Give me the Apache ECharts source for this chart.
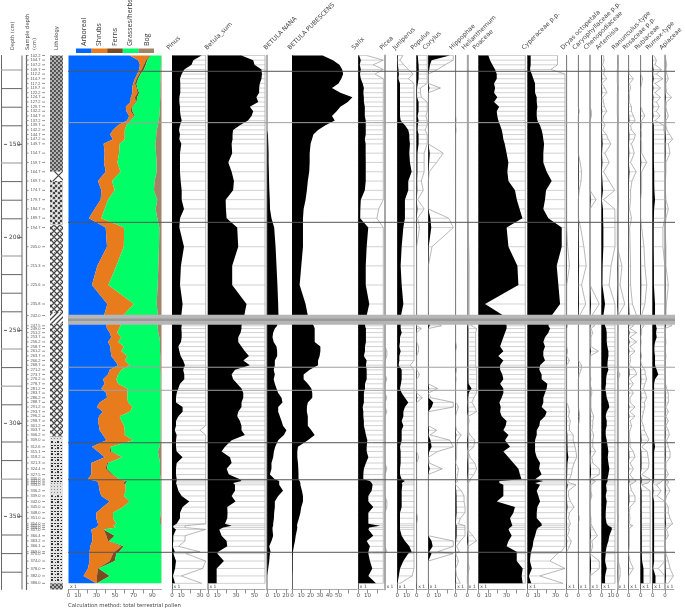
<!DOCTYPE html>
<html>
<head>
<meta charset="utf-8">
<title>Pollen diagram</title>
<style>
html, body { margin: 0; padding: 0; background: #fff; }
#chart { width: 685px; height: 609px; }
</style>
<script src="https://cdn.jsdelivr.net/npm/echarts@6/dist/echarts.min.js"></script>
</head>
<body>
<div id="chart"></div>
<script type="text/javascript">
// sample depths (cm)
const samples = [102.2,104.7,107.2,109.7,112.2,114.7,117.2,119.7,122.2,124.7,127.2,129.7,132.2,134.7,137.2,139.7,142.2,144.7,147.2,149.7,154.7,159.7,164.7,169.7,174.7,179.7,184.7,189.7,194.7,205.0,215.3,225.6,235.8,242.0,
    247.5,249.0,251.2,253.7,256.2,258.7,261.2,263.7,266.2,268.7,271.2,273.7,276.2,278.7,281.2,283.7,286.2,288.7,291.2,293.7,296.2,298.7,301.2,303.7,306.2,309.0,312.6,315.1,318.2,321.3,324.4,327.5,330.0,331.0,332.0,333.0,336.2,339.0,342.0,345.0,348.0,351.0,354.0,355.0,356.0,357.0,360.4,363.2,366.1,369.0,370.0,374.0,378.0,382.0,386.0]

// summary groups, cumulative percent at each sample
const arborealTop = [65.9,75,76.8,76,73.9,71.4,69.5,68.5,68.8,67,66.7,61.6,62.3,65.2,63.1,53.3,47.9,44.7,47.9,37.8,38.9,38.2,40,31.7,35.3,34.6,28.1,22,40,41.4,31,25.2,41.8,38.2,
    40.7,41.4,44.3,46.1,42.5,45,45.4,46.1,49.7,53.3,44.3,42.5,37.1,38.9,35.3,40.7,41.4,33.5,30.6,37.1,32.8,31.7,32.8,33.5,37.1,40.7,25.2,31.7,38.9,24.5,24.5,24.5,20.9,29.9,32.4,32.4,33.5,35.3,44.3,37.1,29.9,29.9,31.7,31.7,29.9,24.5,25.6,25.6,23.4,22.7,22.7,22.7,20.9,16.2,29.9]
const shrubsTop = [87.6,83.2,81.1,78.6,76,73.2,71.4,73.2,74.2,71.4,72.4,67.7,67,70.3,65.9,62.3,60.5,60.5,60.5,55.1,54.4,52.6,55.9,46.8,49.7,42.5,38.9,35.3,59.8,59.5,51.5,42.9,70.3,58.7,
    55.9,54.4,52.3,56.9,53.3,59.5,56.9,63.4,60.5,65.9,56.9,53.3,51.5,53.3,63.1,63.4,63.1,64.1,68.8,65.9,55.1,56.9,59.8,60.5,60.5,69.5,45.4,44.3,58,41.4,40,46.1,55.1,61.6,58.7,61.3,61.6,59.5,65.2,58.7,47.9,47.9,51.5,47.9,51.5,37.8,40.7,42.5,56.9,49.7,47.9,44.3,31.7,30.6,30.6]
const fernsTop = [88.3,84.7,83.2,81.1,77.5,75,73.2,73.9,76,73.9,73.2,68.8,68.8,71.4,66.7,62.3,60.5,60.5,60.5,55.1,54.4,52.6,55.9,46.8,49.7,42.5,38.9,35.3,59.8,59.5,51.5,42.9,70.3,58.7,
    55.9,54.4,52.3,56.9,53.3,59.5,56.9,63.4,60.5,65.9,56.9,53.3,51.5,53.3,63.1,63.4,63.1,64.1,68.8,65.9,55.1,56.9,59.8,60.5,60.5,69.5,45.4,46.1,58,42.5,41.4,47.6,55.1,63.1,61.6,61.3,61.6,59.5,65.9,58.7,47.9,47.9,51.5,47.9,51.5,37.8,49.7,43.6,59.5,54.4,51.5,49.7,32.4,44.3,30.6]
const grassesTop = [99.5,99.5,99.5,99.1,99.1,99.1,98.7,98.7,98.7,98.7,98.4,98.4,98,97.7,96.9,96.2,94.8,94.4,94.1,93.3,94.1,94.8,94.8,92.6,91.9,95.5,93.7,95.5,97.7,97.3,96.6,95.9,94.8,96.2,
    95.9,95.9,96.6,97.7,98.4,98.4,98.4,98.7,98.7,98.7,98.7,99.1,99.1,99.1,99.1,99.1,99.1,99.1,99.1,99.1,99.1,99.1,99.1,99.1,99.1,99.1,98,96.2,97.3,98.4,98.4,98.4,99.3,99.3,99.3,99.3,99.3,99.3,99.3,99.3,99.3,98.4,98.4,99.8,99.8,99.8,99.8,99.8,99.8,99.8,99.8,99.8,99.8,99.8,99.8]
const bogTop = samples.map(() => 100)

// main taxa, percent
const pinus = [31.8,22.9,21,13.2,10.4,8.6,8.9,8.9,8.9,7.9,7.9,8.6,8.6,9.3,10.4,8.6,7.5,8.6,7.9,10,8.6,8.6,8.6,9.3,10.4,10.4,12.9,8.6,7.9,12.9,9.6,8.6,11.4,10,
    10.4,10,10.4,10.4,9.6,6.8,7.9,9.3,12,13.9,12,13.2,13.2,8.6,6.8,5,4.3,4.3,11.4,11.4,6.8,4.3,4.3,3,5,4.3,4.3,5,11.4,5,4.3,4.3,5,5,4.3,5,6.8,10.4,18.6,11.4,8.6,8.6,5,1.4,1.4,4.3,1.4,1.4,0.7,3,1.5,4.3,3.3,1,3.2]
const betulaSum = [36,48.6,50,57.5,58,57.5,55.7,55,55,52,54,45,48.6,46.8,43,34.3,27,26.4,26.4,25.4,26,21.8,25.4,27.9,27,19,19.3,20,31.4,32.5,26,26,41.4,39,
    36,36,35,32.5,32.5,36,39.6,44,37.9,45,29,25.4,27,31.4,36,37.9,37.9,36,36,32.5,31.4,34.3,36,36,39.6,25.4,18.2,14.6,23.6,25.4,20,22.5,34.3,36,27,29,29,25.4,29.6,20.7,21,20.7,18.2,25.4,16.4,12.1,14.6,20,20.7,11,10,17.1,9.3,9.3,9.3]
const betulaNana = [0,0,0,0,0,0,0,0,0,0,0,0,0,0,0,0,0,0.8,1,1.2,1.5,1.5,1.8,2,2.3,2.8,3,4.6,7.5,9,10,11,11.8,12.1,
    10.7,8.2,6.4,5.7,7,10,10.7,10.7,8.2,8.2,7,8.2,7,8.2,10,11.8,15.4,16.4,11.8,11.8,13.6,15.4,17,20.7,17.9,11.8,8.6,7.2,6.4,4.6,4.6,2.9,8.2,12.9,12.9,12.9,17,11.8,8.2,8.2,7.5,7.2,6.4,6.4,5.7,5.7,6.4,4.6,2.2,3.6,2.9,2.2,1.1,0,0]
const betulaPubescens = [33,44,51,54,55,53,50,43,52,65,60,52,48,43,46,36,28,23,21.5,20,19,19,18.5,17,16,14.6,12.5,11.8,11.8,11.8,10,8.2,14.6,17,
    23.3,24.4,24.4,24.4,24.4,30.5,30.5,29.7,28,28,19,12.5,12.5,17,20.8,21.8,21.8,17,16,16,17,17,17,20.8,24.4,17,6.4,5.7,5.7,6.4,6.8,7,7,8.2,9,9,10.7,11.8,11.8,10,9,7.5,5.7,5.4,5.7,5.4,4,3.2,2,1,0.7,0.4,0.4,0,0]
const salix = [0.9,2.7,1.6,2.7,1.8,2.7,4.7,6,5.4,6,6,7,7,7,8,8,8,8,7,7.9,7.9,8,8,8,7,2.7,2.2,2,10.7,9,8,8,11.8,9,
    7.2,8.2,8.2,8.2,8.2,7.2,7.2,6,9,8.2,9,9,9,7.2,7.2,6,6,6,4.7,5.4,5.4,6,6,7.2,8.2,9.7,9,9,10.8,8.2,6,5.4,5.4,12.5,14.3,15.4,14.3,10.8,10.8,16.1,10.8,10.8,10.8,23.3,11.8,10.8,16.1,9,12.5,10.8,10.8,12.5,15,10.8,19]
const juniperus = [0.6,0.3,0.7,1.2,1.7,1.2,2.9,2.9,2.9,2.9,2.9,2.9,2.9,2.9,3.6,8.2,11.8,12.9,13,13.6,12.9,13.6,15.4,11.8,11.8,8.2,8.2,8.2,6.5,4.7,3.6,4.7,6.5,4,
    3.6,3.6,4.7,2.9,2.9,2.2,3.6,2.2,2.2,1.4,4.7,4.7,4.7,3.9,2.9,4.7,8.2,11.8,8.2,6.5,6.5,4.7,6.5,4.7,4.7,4.7,2.9,3.6,3.6,3.6,2.9,2.9,4.7,8.2,4.7,5.4,4.7,4.7,4.7,4.7,2.9,2.9,2.9,2.9,2.9,2.9,4.7,8.2,12.9,15.4,11.8,6.5,3,1.6,0.3]
const poaceae = [10.4,12.2,14.7,17.6,19.4,19.4,16.5,17.6,16.5,20,16.5,22,19.4,20,21.1,23,24.8,25.8,26.5,28,30,31.9,30.8,32,39,41,44,47,30,32,41.6,42.7,6.8,26.5,
    30,30,28.3,26.5,24.7,23,26.5,21,26.5,23,23,25.4,26.5,23,26.5,26.5,24.7,22.2,23.7,23,24.7,30,29,26.5,32,28.3,33.7,26.5,32,37.3,42.7,44.4,46,22.2,22.2,26.5,26.5,26.5,19.4,39,37.3,33.7,35.5,36.2,33.7,32,35.5,32,30,40.9,40.9,40.9,47.3,46.2,47.3]
const cyperaceae = [3.2,3.2,3.2,2.5,4.3,6.1,7.9,7.9,7.9,9.7,9.7,10.4,9.7,9.7,10.4,13.2,15,16.1,16.8,17.6,16.8,16.8,20.4,25.8,19.7,18.6,16.8,22.2,36.6,36.6,31.2,33,34.8,25.8,
    22.2,24,22.2,18.6,16.8,18.6,16.8,16.8,18.6,13.3,12.5,15,15,21.1,20.4,18.6,16.8,16.8,15,20.4,18.6,13.3,12.5,9.7,9.7,7.9,7.9,7.9,9.7,13.3,12.2,15,7.9,16.8,7.9,13.3,9.7,11.5,13.3,10.4,9.7,9.7,15,15,11.5,9.7,7.9,6.1,5.4,3.6,3.2,2.4,4.5,1.3,3.8]
const artemisia = [0.2,0.25,0.1,0.35,0.2,0.55,0.02,0.35,0.55,0.1,0.2,0.3,0.55,0.2,0.1,0.35,0.1,0.5,0.7,1,0.35,0.8,0.2,0.8,1.4,0.2,1.4,1.5,1.8,1.8,1,0.8,3.6,1.8,
    3.6,4.7,5.4,5.4,5.4,6.1,7.2,7.2,6.5,6.1,7.2,5.4,4.7,4.7,3.9,4.7,5.4,7.2,8.2,5.4,4.3,5.4,5.4,4.3,4.3,5.4,6.5,7.2,6.5,7.2,8.2,7.2,6.1,6.5,5.4,4.7,5.4,4.3,5.4,4.7,4.3,4.3,5.4,7.2,10.8,10.8,8.2,7.2,5.4,4.3,4.3,3.6,5.4,3.6,3.6]
const rumex = [0.1,0.4,0.25,0.95,0.4,1.1,0.25,0.85,0.25,0.85,0.4,0.7,0.4,0.8,0.25,1.2,1.2,1.3,1.3,1.3,1.3,1.3,1.6,1.6,1.8,2.5,1.5,1.3,1.1,1.1,1.3,1.3,2.5,2.5,
    3.6,4.3,3.6,4.3,2.5,1.8,1.8,2.5,2.5,2.5,4.3,6,2.5,1.5,1.5,1.5,1.5,1.5,1.5,1.5,1.5,1.5,1.5,1.5,1.5,1.5,2.5,1.5,1.5,1.5,1.5,1.5,1.5,1,0.8,0.4,0.9,0.5,1.5,1.5,1.5,1.5,1.5,1.5,1.5,1.5,1.5,1.5,1.5,1.5,1.5,1.5,0.6,3,3]
const rosaceae = [0,0,0,0,0.05,0.5,0.1,0.2,0.05,0.1,0.05,0.3,0.3,0.5,0.7,0.2,0.3,0.7,0.6,0.3,0.6,0.2,0.8,0.35,0.2,0.2,0.1,0.3,0.1,0.15,0.2,0.2,0.4,0.85,
    0.5,0.14,0.86,0.14,0.86,0.14,0.68,0.14,0.2,0.07,0.68,0.86,0.14,0.5,0.14,0.5,0.14,0.14,0.68,0.14,0.68,0.14,0.32,0.14,0.07,0.14,0.14,0.5,0.68,0.14,0.5,0.14,0.5,0.8,0.5,0.14,0.32,0.68,0.68,0.14,0.07,0.14,0.07,0.43,0.14,0.07,0.07,0.07,0.07,0,0,0.14,0.5,0,0]
const apiaceae = [0,0.1,0.18,0.1,0.2,0.36,0.1,0.1,0.2,0.72,0.15,0.1,0.2,0.36,0.1,0.1,0.2,0.5,0.82,0.36,0.54,0.1,0.1,0.05,0.05,0.1,0.36,0.1,0,0.1,0.1,0.36,0.15,0.1,
    0.72,0,0.05,0.05,0.1,0.05,0.05,0.1,0.05,0.05,0,0.05,0.05,0.05,0.18,0.36,0.36,0.36,0.1,0.36,0.1,0.36,0.1,0.36,0.47,0.18,0.36,0.54,0.54,0.1,0.1,0.36,0,0.36,0.36,0.18,0.54,0.18,0,0.36,0.36,0.54,0.82,0.54,0.36,0.18,0.36,0,0,0.1,0.1,0.36,0.54,0.9,0.36]

// rare taxa, [sample number, percent]; every other sample is zero
const picea = [[40,0.2],[41,0.2],[46,0.2],[50,0.2],[53,0.2],[64,0.2],[72,0.2],[73,0.2],[83,0.2]]
const populus = [[0,1.2],[1,1.5],[2,2],[3,2.2],[4,2],[5,2],[6,1.2],[7,0.4],[8,0.4],[9,0.5],[10,2],[11,2],[12,2],[13,1],[14,2],[15,1.2],[16,0.9],[17,2],[18,2],[19,2],[20,0.8],[21,0.8],[22,0.8],[23,0.5],[24,0.7],[25,0.1],[26,0.8],[27,0.1],[28,0.3],[35,0.5],[39,0.2],[40,0.2],[45,0.3],[50,0.6],[62,0.2],[75,0.1]]
const corylus = [[0,23],[1,3.6],[2,1.8],[3,1],[7,1.3],[20,1.6],[21,0.9],[22,0.1],[27,2.2],[28,3.2],[29,0.4],[34,1.4],[48,1],[50,0.3],[51,5.4],[52,3.6],[57,0.9],[58,0.2],[59,2.3],[60,3.6],[61,1],[63,0.1],[64,1.5],[81,3.5],[82,4.7],[83,1],[84,3.5]]
const hippophae = [[14,0.05],[16,0.05],[39,0.1],[44,0.1],[46,0.05],[52,0.3],[53,0.1],[57,0.1],[58,0.6],[59,0.2],[60,0.1],[61,0.1],[62,0.1],[64,0.3],[65,0.2],[66,0.1],[67,0.2],[70,0.6],[71,0.9],[72,0.9],[73,1],[74,1],[75,0.5],[76,0.3],[77,1],[78,1],[79,1],[80,1],[81,0.5],[82,0.1],[83,0.4],[85,0.3],[87,0.1],[88,0.5]]
const helianthemum = [[28,0.1],[29,0.15],[30,0.2],[31,0.2],[32,0.2],[33,0.2],[34,0.5],[35,1],[36,0.9],[37,0.9],[38,0.9],[39,0.9],[40,0.9],[41,0.9],[42,0.9],[43,0.9],[44,1],[45,1],[46,1],[47,1.3],[48,4.6],[49,1.5],[50,0.7],[51,0.5],[52,0.8],[53,1],[54,0.1],[55,0.2],[56,0.1],[57,0.05],[58,0.3],[59,0.8],[60,0.7],[61,0.1],[62,0.3],[63,0.8],[64,1],[65,0.7],[66,0.3],[67,0.3],[68,0.1],[70,0.1],[80,0.6],[81,1],[82,0.1],[85,0.1],[86,0.2]]
const dryas = [[29,0.1],[30,0.3],[34,0.1],[40,0.1],[42,0.3],[52,0.2],[53,0.3],[54,0.2],[55,0.4],[56,0.3],[57,0.3],[58,0.7],[59,0.7],[60,0.9],[61,1],[62,1.8],[63,0.8],[64,0.6],[65,0.5],[66,0.3],[67,0.1],[68,0.3],[69,1],[70,0.2],[71,0.2],[72,0.4],[73,0.8],[74,0.3],[75,0.2],[76,0.4],[77,0.3],[78,0.2],[79,0.3],[80,0.1],[81,0.5],[82,0.3]]
const caryophyllaceae = [[12,0.1],[21,0.2],[22,0.35],[23,0.3],[24,0.1],[28,0.25],[29,0.6],[30,0.85],[31,0.35],[32,0.8],[33,0.15],[43,0.35],[44,0.3],[45,0.1],[53,0.1],[54,0.15],[55,0.1],[75,0.1]]
const chenopodiaceae = [[12,0.15],[13,0.15],[25,0.65],[32,1],[33,0.2],[34,0.5],[35,0.1],[36,0.3],[37,0.1],[38,0.1],[39,0.1],[40,0.9],[41,0.05],[46,0.1],[48,0.15],[49,0.2],[50,0.1],[51,0.1],[52,0.1],[53,0.2],[54,0.4],[55,0.3],[56,0.3],[57,0.2],[58,0.4],[59,0.3],[60,0.3],[61,0.6],[62,0.2],[63,0.3],[64,1],[65,1],[66,0.1],[67,0.6],[68,0.4],[69,0.1],[70,0.1],[71,0.2],[75,0.1],[76,0.1],[77,0.2],[78,0.3],[79,0.4],[80,0.8],[81,0.2],[82,0.3],[83,0.1],[85,1],[86,1]]
const ranunculus = [[1,0.1],[2,0.1],[7,0.1],[14,0.1],[25,0.1],[30,0.5],[31,0.3],[32,0.8],[33,0.1],[35,0.1],[45,0.3],[46,0.1],[48,0.1],[75,0.1],[85,0.1],[86,0.3],[87,0.3],[88,0.1]]
const rubiaceae = [[5,0.2],[6,0.1],[12,0.2],[13,0.45],[14,0.1],[15,0.1],[16,0.05],[17,0.1],[18,0.05],[19,0.1],[20,0.1],[21,0.65],[22,0.1],[23,0.1],[24,0.1],[28,0.1],[29,0.35],[30,0.45],[31,0.65],[32,0.45],[33,0.1],[34,0.35],[35,0.1],[36,0.1],[38,0.05],[41,0.1],[43,0.1],[44,0.45],[45,0.5],[46,0.65],[47,0.45],[48,0.3],[49,0.5],[50,0.65],[51,0.4],[52,0.45],[53,0.3],[54,0.2],[55,0.1],[56,0.3],[57,0.4],[58,0.65],[59,0.9],[60,0.1],[61,0.7],[62,0.8],[63,0.9],[64,0.8],[65,0.1],[66,1.1],[67,1],[68,0.8],[69,0.1],[70,1],[71,1],[72,1.1],[73,1],[74,1.1],[75,1.1],[76,1.1],[77,1.1],[78,1.1],[79,1.1],[80,1.2],[81,1.2],[82,1.2],[83,1.2],[84,1.2],[85,1.5],[86,3],[87,3],[88,3]]

// depth scale
const depthLabels = [150, 200, 250, 300, 350]
const depthRules = [110,120,130,140,160,170,180,190,210,220,230,240,260,270,280,290,310,320,330,340,360,370,380]
const lightRules = [110, 160, 210, 260, 280, 330]

// lithology units, [from depth, to depth, pattern name]
const lithology = [
    [102.2, 164.7, 'peat'], [164.7, 169.7, 'cross'], [169.7, 193.3, 'dotcross'], [193.3, 240.6, 'chain'],
    [240.6, 246.4, 'hatch'], [246.4, 307.2, 'chain'], [307.2, 309.3, 'dots'], [309.3, 331.5, 'dash'],
    [331.5, 338.6, 'dots'], [338.6, 386, 'dash'], [386, 389.3, 'peat']
]

// zone lines and the hiatus band, depth in cm
const darkZones = [110.7, 191.9, 310.4, 330.3, 369.3]
const lightZones = [138.3, 269.8, 282.2]
const hiatus = [241.6, 246.9]
const hiatusCore = [243.6, 245]

const groups = [
    { name: 'Arboreal', color: '#0066ff', top: arborealTop, base: null },
    { name: 'Shrubs', color: '#e87b1c', top: shrubsTop, base: arborealTop },
    { name: 'Ferns', color: '#7a4a22', top: fernsTop, base: shrubsTop },
    { name: 'Grasses/herbs', color: '#00ff66', top: grassesTop, base: fernsTop },
    { name: 'Bog', color: '#a08468', top: bogTop, base: grassesTop }
]

function full(list) {
    let out = samples.map(() => 0)
    list.forEach(p => { out[p[0]] = p[1] })
    return out
}

const LANE_TOP = 55.5
const LANE_HEIGHT = 534
const DEPTH_TOP = 102.2
const DEPTH_BOTTOM = 389.3
const PX_PER_PCT = 0.93
const FONT = '"DejaVu Sans", sans-serif'

// left: x of zero line, w: lane width, name: rotated header, labelX: where the header starts
const panels = [
    { name: 'Pinus', values: pinus, left: 172, w: 33.7, ticks: [0,10,20,30], labels: [0,10,30], labelX: 170, shade: true, x1: true },
    { name: 'Betula_sum', values: betulaSum, left: 208, w: 57, ticks: [0,10,20,30,40,50], labels: [0,10,30,50], labelX: 208, shade: true, wide: true, x1: true },
    { name: 'BETULA NANA', values: betulaNana, left: 267.2, w: 21, ticks: [0,10,20], labels: [0,10,20], labelX: 267, wide: true },
    { name: 'BETULA PUBESCENS', values: betulaPubescens, left: 292, w: 65, ticks: [0,10,20,30,40,50,60], labels: [0,10,20,30,40,50], labelX: 291 },
    { name: 'Salix', values: salix, left: 358.3, w: 25, ticks: [0,10,20], labels: [0,10], labelX: 355, shade: true, x1: true },
    { name: 'Picea', values: full(picea), left: 385, w: 3.5, ticks: [0], labels: [], labelX: 383, shade: true, wide: true, x1: true },
    { name: 'Juniperus', values: juniperus, left: 397.3, w: 16.7, ticks: [0,10], labels: [0,10], labelX: 396, shade: true, x1: true },
    { name: 'Populus', values: full(populus), left: 416.7, w: 10.5, ticks: [0], labels: [0], labelX: 414, shade: true, x1: true },
    { name: 'Corylus', values: full(corylus), left: 428.3, w: 25, ticks: [0,10,20], labels: [0,10], labelX: 426, shade: true, x1: true },
    { name: 'Hippophae', values: full(hippophae), left: 455.7, w: 9.5, ticks: [0], labels: [0], labelX: 452.7, shade: true, x1: true },
    { name: 'Helianthemum', values: full(helianthemum), left: 467.3, w: 9.3, ticks: [0], labels: [0], labelX: 465, shade: true, wide: true, x1: true },
    { name: 'Poaceae', values: poaceae, left: 478.7, w: 46.6, ticks: [0,10,20,30,40], labels: [0,10,30], labelX: 476, shade: true, x1: true },
    { name: 'Cyperaceae p.p.', values: cyperaceae, left: 527.7, w: 37.3, ticks: [0,10,20,30], labels: [0,10,30], labelX: 525, shade: true, x1: true },
    { name: 'Dryas octopetala', values: full(dryas), left: 566.7, w: 10, ticks: [0], labels: [0], labelX: 564, shade: true, x1: true },
    { name: 'Caryophyllaceae p.p.', values: full(caryophyllaceae), left: 578.3, w: 10, ticks: [0], labels: [0], labelX: 575.7, shade: true, x1: true },
    { name: 'Chenopodiaceae', values: full(chenopodiaceae), left: 590, w: 9.6, ticks: [0], labels: [0], labelX: 587, shade: true, wide: true, x1: true },
    { name: 'Artemisia', values: artemisia, left: 601.7, w: 13.3, ticks: [0,10], labels: [0,10], labelX: 599, shade: true, x1: true },
    { name: 'Ranunculus-type', values: full(ranunculus), left: 617.3, w: 9.5, ticks: [0], labels: [0], labelX: 615, shade: true, wide: true, x1: true },
    { name: 'Rosaceae p.p.', values: rosaceae, left: 628.7, w: 10, ticks: [0], labels: [0], labelX: 626, shade: true, x1: true },
    { name: 'Rubiaceae', values: full(rubiaceae), left: 640.7, w: 9.5, ticks: [0], labels: [0], labelX: 638, shade: true, x1: true },
    { name: 'Rumex-type', values: rumex, left: 652.7, w: 12.3, ticks: [0], labels: [0], labelX: 649, shade: true, x1: true },
    { name: 'Apiaceae', values: apiaceae, left: 665, w: 9, ticks: [0], labels: [0], labelX: 662.7, shade: true, wide: true, x1: true }
]

function makePattern(size, draw) {
    let c = document.createElement('canvas')
    c.width = size
    c.height = size
    let g = c.getContext('2d')
    g.fillStyle = '#fff'
    g.fillRect(0, 0, size, size)
    draw(g)
    return { image: c, repeat: 'repeat' }
}
const patterns = {
    peat: makePattern(4, g => {
        g.fillStyle = '#b0b0b0'; g.fillRect(0, 0, 4, 4)
        g.fillStyle = '#555'; g.fillRect(0, 0, 2, 2); g.fillRect(2, 2, 2, 2)
    }),
    cross: makePattern(13, g => {
        g.strokeStyle = '#444'; g.lineWidth = 1.2
        g.beginPath(); g.moveTo(0, 0); g.lineTo(13, 13); g.moveTo(13, 0); g.lineTo(0, 13); g.stroke()
    }),
    dotcross: makePattern(5, g => {
        g.fillStyle = '#c8c8c8'; g.fillRect(0, 0, 5, 5)
        g.fillStyle = '#444'; g.fillRect(0, 0, 2, 2); g.fillRect(3, 2, 2, 2)
        g.fillStyle = '#fff'; g.fillRect(3, 0, 1, 1); g.fillRect(1, 3, 1, 1)
    }),
    chain: makePattern(6, g => {
        g.strokeStyle = '#444'; g.lineWidth = 1.3
        g.beginPath(); g.moveTo(0, 3); g.lineTo(3, 0); g.lineTo(6, 3); g.lineTo(3, 6); g.closePath(); g.stroke()
        g.fillStyle = '#888'; g.fillRect(0, 0, 1, 1)
    }),
    hatch: makePattern(5, g => {
        g.strokeStyle = '#444'; g.lineWidth = 1.3
        g.beginPath(); g.moveTo(-1, 6); g.lineTo(6, -1); g.moveTo(-1, 1); g.lineTo(1, -1); g.moveTo(4, 6); g.lineTo(6, 4); g.stroke()
    }),
    dots: makePattern(3, g => {
        g.fillStyle = '#e2e2e2'; g.fillRect(0, 0, 3, 3)
        g.fillStyle = '#888'; g.fillRect(0, 0, 1, 1)
    }),
    dash: makePattern(6, g => {
        g.fillStyle = '#e4e4e4'; g.fillRect(0, 0, 6, 6)
        g.fillStyle = '#333'; g.fillRect(0, 1, 2, 1); g.fillRect(3, 1, 2, 1); g.fillRect(1, 4, 1, 1); g.fillRect(3, 3, 2, 2)
    })
}

// only the first item of a custom series draws, from the whole array
function drawOnce(build) {
    return function (params, api) {
        if (params.dataIndex !== 0) return null
        return { type: 'group', children: build(api) }
    }
}
function lineSeg(api, x1, x2, depth, color, width) {
    let a = api.coord([x1, depth])
    let b = api.coord([x2, depth])
    return { type: 'line', shape: { x1: a[0], y1: a[1], x2: b[0], y2: b[1] }, style: { stroke: color, lineWidth: width } }
}
function customSeries(index, z, build) {
    return {
        type: 'custom', coordinateSystem: 'cartesian2d', xAxisIndex: index, yAxisIndex: index,
        data: [[0, DEPTH_TOP]], encode: { x: 0, y: 1 }, renderItem: drawOnce(build),
        silent: true, animation: false, clip: false, z: z
    }
}

let grids = []
let xAxes = []
let yAxes = []
let series = []

function addLane(left, width, xMax, xExtra, yExtra) {
    grids.push({ left: left, top: LANE_TOP, width: width, height: LANE_HEIGHT })
    xAxes.push(Object.assign({
        gridIndex: grids.length - 1, type: 'value', min: 0, max: xMax, position: 'bottom', show: false,
        splitLine: { show: false }, axisLine: { onZero: false }
    }, xExtra))
    yAxes.push(Object.assign({
        gridIndex: grids.length - 1, type: 'value', min: DEPTH_TOP, max: DEPTH_BOTTOM, inverse: true, show: false,
        splitLine: { show: false }, axisLine: { onZero: false }
    }, yExtra))
    return grids.length - 1
}
function percentAxis(ticks, labels) {
    return {
        show: true,
        axisLine: { show: true, onZero: false, lineStyle: { color: '#a8a8a8', width: 1 } },
        axisTick: { show: true, length: 4, customValues: ticks, lineStyle: { color: '#777', width: 0.8 } },
        axisLabel: { show: true, customValues: labels, fontSize: 5.5, margin: 3, color: '#555', fontFamily: FONT, hideOverlap: false }
    }
}

// depth axis
let idx = addLane(1.5, 20.5, 1, {}, {
    show: true,
    axisLine: { show: true, onZero: false, lineStyle: { color: '#666', width: 1 } },
    axisTick: { show: false },
    axisLabel: { show: false }
})
series.push(customSeries(idx, 2, api => {
    let out = []
    depthRules.forEach(d => {
        let light = lightRules.indexOf(d) >= 0
        out.push(lineSeg(api, 0, 1, d, light ? '#bdbdbd' : '#666', light ? 1.6 : 1))
    })
    depthLabels.forEach(d => {
        out.push(lineSeg(api, 0.12, 0.27, d, '#666', 1))
        out.push(lineSeg(api, 0.8, 1, d, '#666', 1))
    })
    let a = api.coord([1, DEPTH_TOP])
    let b = api.coord([1, DEPTH_BOTTOM])
    out.push({ type: 'line', shape: { x1: a[0], y1: a[1], x2: b[0], y2: b[1] }, style: { stroke: '#666', lineWidth: 1 } })
    return out
}))
idx = addLane(9, 7, 1, {}, {
    show: true,
    axisLine: { show: false },
    axisTick: { show: false },
    axisLabel: { show: true, inside: true, margin: 0, customValues: depthLabels, fontSize: 6, color: '#444', fontFamily: FONT }
})

// sample depth axis
idx = addLane(26, 19, 1, {}, {
    show: true,
    axisLine: { show: true, onZero: false, lineStyle: { color: '#666', width: 1.2 } },
    axisTick: { show: false },
    axisLabel: {
        show: true, inside: true, margin: 4.5, customValues: samples, fontSize: 4, color: '#555',
        fontFamily: '"Liberation Sans", sans-serif', hideOverlap: false, showMinLabel: true, showMaxLabel: true,
        formatter: v => v.toFixed(1)
    }
})
series.push(customSeries(idx, 2, api => {
    let out = []
    samples.forEach(d => {
        out.push(lineSeg(api, 0, 0.14, d, '#777', 0.8))
        out.push(lineSeg(api, 0.85, 1, d, '#777', 0.8))
    })
    return out
}))

// lithology
idx = addLane(50, 13, 1, {}, {})
series.push(customSeries(idx, 2, api => lithology.map(u => {
    let a = api.coord([0, u[0]])
    let b = api.coord([1, u[1]])
    return {
        type: 'rect', shape: { x: a[0], y: a[1], width: b[0] - a[0], height: b[1] - a[1] },
        style: { fill: patterns[u[2]], stroke: null }
    }
})))

// summary panel, layered edges
idx = addLane(68.5, 93, 100, percentAxis([0,10,20,30,40,50,60,70,80,90], [0,10,30,50,70,90]), {})
series.push(customSeries(idx, 3, api => groups.map(g => {
    let pts = []
    samples.forEach((d, i) => pts.push(api.coord([g.top[i], d])))
    for (let i = samples.length - 1; i >= 0; i--) {
        pts.push(api.coord([g.base ? g.base[i] : 0, samples[i]]))
    }
    return { type: 'polygon', shape: { points: pts }, style: { fill: g.color, stroke: null } }
})))

// one lane per taxon: ten times enlarged outline behind the black curve
panels.forEach(p => {
    let xMax = p.w / PX_PER_PCT
    let i = addLane(p.left, p.w, xMax, p.labels.length || p.ticks.length > 1 ? percentAxis(p.ticks, p.labels) : {}, {
        show: true,
        axisLine: { show: true, onZero: false, lineStyle: p.wide ? { color: '#b0b0b0', width: 2 } : { color: '#666', width: 1 } },
        axisTick: { show: false },
        axisLabel: { show: false }
    })
    series.push(customSeries(i, 3, api => {
        let out = []
        if (p.shade) {
            let outline = []
            samples.forEach((d, n) => {
                let x = Math.min(p.values[n] * 10, xMax)
                outline.push(api.coord([x, d]))
                if (x > 0) out.push(lineSeg(api, 0, x, d, '#bdbdbd', 0.7))
            })
            out.push({ type: 'polyline', shape: { points: outline }, style: { stroke: '#999', lineWidth: 0.7, fill: null } })
        }
        let pts = [api.coord([0, samples[0]])]
        samples.forEach((d, n) => pts.push(api.coord([Math.min(p.values[n], xMax), d])))
        pts.push(api.coord([0, samples[samples.length - 1]]))
        out.push({ type: 'polygon', shape: { points: pts }, style: { fill: '#000', stroke: null } })
        return out
    }))
})

// zone lines and hiatus across everything
idx = addLane(68, 607, 1, {}, {})
series.push(customSeries(idx, 8, api => {
    let out = []
    lightZones.forEach(d => out.push(lineSeg(api, 0, 1, d, '#a0a0a0', 1)))
    darkZones.forEach(d => out.push(lineSeg(api, 0, 1, d, '#555', 1)))
    let band = (range, color) => {
        let a = api.coord([0, range[0]])
        let b = api.coord([1, range[1]])
        return { type: 'rect', shape: { x: a[0], y: a[1], width: b[0] - a[0], height: b[1] - a[1] }, style: { fill: color, stroke: null } }
    }
    out.push(band(hiatus, '#b6b6b6'))
    out.push(band(hiatusCore, '#9a9a9a'))
    return out
}))

function text(str, x, y, size, rot, color, family) {
    return {
        type: 'text', x: x, y: y, rotation: rot, silent: true,
        style: { text: str, fill: color || '#444', font: size + 'px ' + (family || FONT), textAlign: 'left', textVerticalAlign: 'bottom' }
    }
}
let graphics = [
    text('Depth (cm)', 15, 50, 5, Math.PI / 2),
    text('Sample depth', 30, 50, 5.2, Math.PI / 2),
    text('(cm)', 37, 50, 5.2, Math.PI / 2),
    text('Lithology', 59, 50, 5.2, Math.PI / 2),
    text('x 1', 70, 589, 4.5),
    text('Calculation method: total terrestrial pollen', 68, 608.5, 5.3)
]
let headerX = [87.5, 102, 118.5, 133, 150]
groups.forEach((g, i) => {
    graphics.push(text(g.name, headerX[i], 46, 7, Math.PI / 2, '#333', '"Open Sans", sans-serif'))
    graphics.push({
        type: 'rect', silent: true,
        shape: { x: 76 + i * 15.6, y: 48.5, width: 15.6, height: 4.5 },
        style: { fill: g.color }
    })
})
panels.forEach(p => {
    graphics.push(text(p.name, p.labelX, 51, 6.2, Math.PI / 4))
    if (p.x1) graphics.push(text('x 1', p.left + 1.5, 589, 4.5))
})

let myChart = echarts.init(document.getElementById('chart'), null, { renderer: 'canvas' })
myChart.setOption({
    animation: false,
    backgroundColor: '#fff',
    tooltip: { show: false },
    grid: grids,
    xAxis: xAxes,
    yAxis: yAxes,
    series: series,
    graphic: { elements: graphics }
})
</script>
</body>
</html>
